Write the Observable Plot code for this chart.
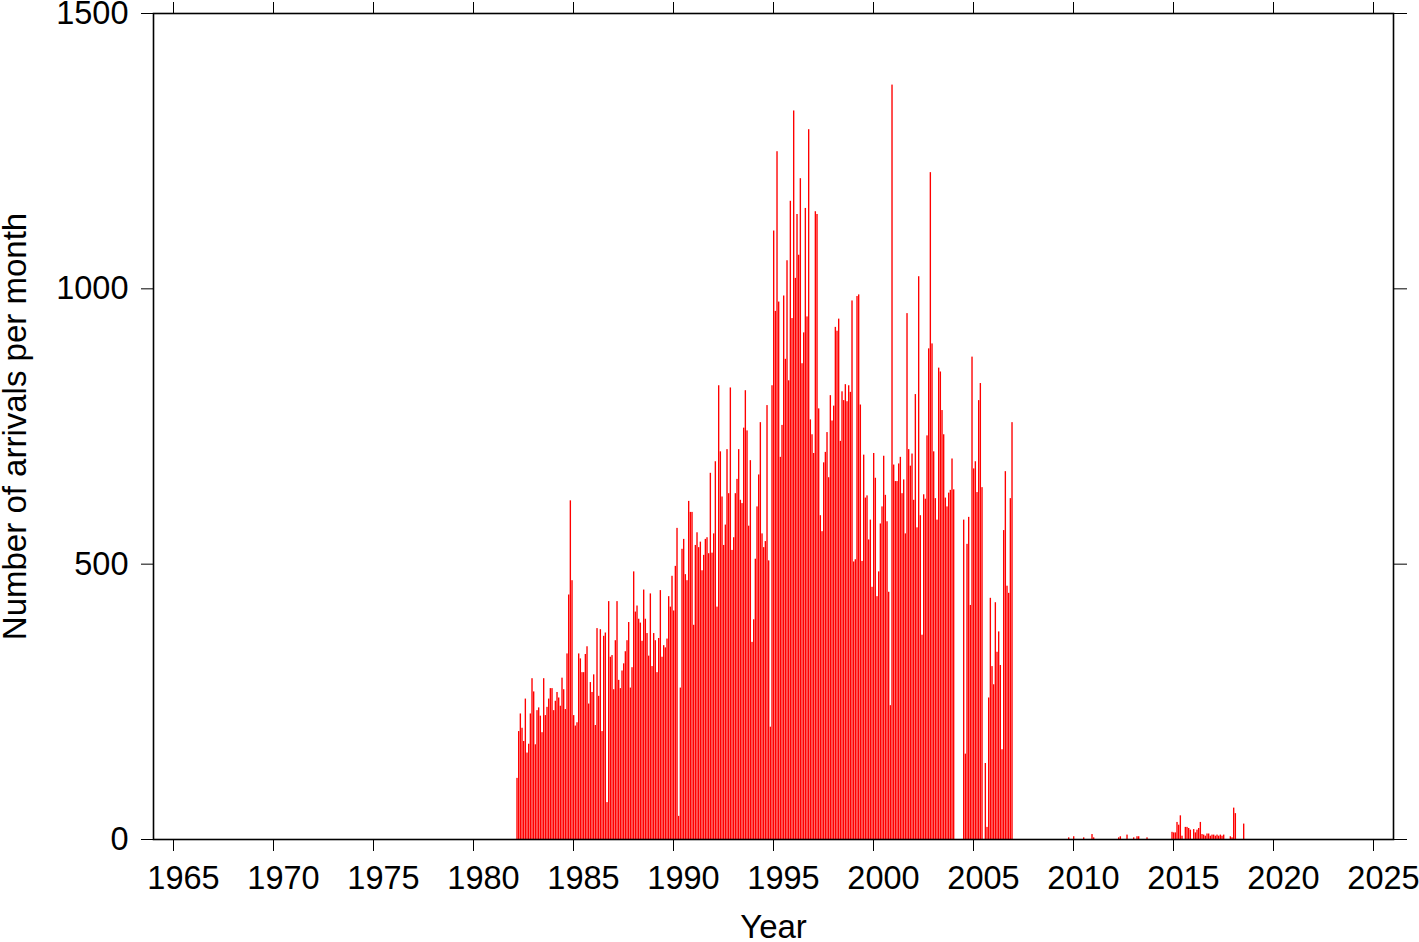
<!DOCTYPE html>
<html>
<head>
<meta charset="utf-8">
<script src="https://cdn.jsdelivr.net/npm/d3@7"></script>
<script src="https://cdn.jsdelivr.net/npm/@observablehq/plot@0.6"></script>
<style>
  html, body { margin: 0; padding: 0; background: #fff; }
  svg { display: block; }
</style>
</head>
<body>
<div id="chart"></div>
<script>
// Monthly arrivals, first value = March 1982, continuous monthly to December 2006
const firstYear = 1982;
const firstMonth = 3;
const arrivals1982to1989 = [
  111,196,228,202,178,255,157,173,228,292,
  268,172,234,239,224,194,292,225,240,255,274,274,
  234,251,267,257,242,293,272,236,337,444,615,470,
  225,206,212,337,328,303,303,336,350,246,285,267,
  299,207,383,260,381,196,369,375,67,432,331,334,
  272,361,432,289,274,306,319,341,361,394,275,312,
  486,413,424,400,393,360,453,400,374,333,446,314,
  374,361,303,365,452,331,352,348,364,441,422,478
];
const arrivals1990to1997 = [
  415,496,565,42,275,527,545,481,470,614,594,594,
  389,534,557,530,540,488,516,545,548,519,665,520,
  555,686,422,824,704,622,534,571,708,628,820,525,
  548,628,654,708,616,610,747,815,742,569,688,358,
  399,509,604,662,757,555,530,541,788,506,204,824,
  1105,959,1249,976,694,752,987,872,1051,833,1159,946,
  1323,1019,1135,1061,1200,864,920,1146,949,1289,762,735,
  701,1140,1135,782,588,559,684,703,739,657,806,760
];
const arrivals1998to2006 = [
  787,930,923,945,723,813,797,826,795,824,812,978,
  504,508,986,989,789,505,698,620,624,544,580,458,
  701,656,441,486,573,604,696,625,577,449,243,1370,
  680,650,650,682,694,628,653,555,955,708,678,700,
  616,808,566,1022,588,371,626,618,733,891,1211,900,
  704,619,580,856,849,779,735,620,604,629,634,691,
  635,0,0,0,0,0,580,155,536,585,425,876,
  673,686,630,797,828,639,0,138,22,257,438,314,
  281,430,340,377,316,163,561,668,460,447,619,757
];
// Sparse later months
const lateMonths = ["2009-10","2010-01","2010-07","2010-12","2011-01","2012-04","2012-05","2012-09",
  "2013-01","2013-03","2013-04","2013-09","2014-12","2015-01","2015-02","2015-03","2015-04","2015-05",
  "2015-06","2015-08","2015-09","2015-10","2015-11","2016-01","2016-02","2016-03","2016-04","2016-05",
  "2016-06","2016-07","2016-08","2016-09","2016-10","2016-11","2016-12","2017-01","2017-02","2017-03",
  "2017-04","2017-05","2017-06","2017-07","2017-11","2017-12","2018-01","2018-02","2018-07"];
const lateValues = [3,5,3,9,3,3,5,8,3,5,5,3,13,12,12,31,26,43,6,22,22,20,17,18,12,17,20,31,9,8,6,10,10,6,8,8,6,8,6,8,6,8,5,3,57,47,28];

const xTicks = [1965,1970,1975,1980,1985,1990,1995,2000,2005,2010,2015,2020,2025];
const yTicks = [0,500,1000,1500];
const xLabel = "Year";
const yLabel = "Number of arrivals per month";

// Build table
const rows = [];
const mainSeries = arrivals1982to1989.concat(arrivals1990to1997, arrivals1998to2006);
mainSeries.forEach((v, i) => {
  const t = firstYear + (firstMonth - 1 + i) / 12;
  rows.push({x1: t, x2: t + 1/12, v});
});
lateMonths.forEach((m, i) => {
  const [yy, mm] = m.split("-").map(Number);
  const t = yy + (mm - 1) / 12;
  rows.push({x1: t, x2: t + 1/12, v: lateValues[i]});
});

const font = "'Liberation Sans', Arial, Helvetica, sans-serif";

const chart = Plot.plot({
  width: 1419,
  height: 942,
  marginLeft: 153,
  marginRight: 26,
  marginTop: 13,
  marginBottom: 103,
  x: {domain: [1964, 2026]},
  y: {domain: [0, 1500]},
  style: {fontFamily: font, fontSize: "32px", color: "black", background: "white", overflow: "visible"},
  marks: [
    Plot.rectY(rows.filter(d => d.v > 0), {x1: "x1", x2: "x2", y: "v", fill: "#ff0000", insetRight: 0.3}),
    // bottom ticks
    Plot.axisX({anchor: "bottom", ticks: xTicks, tickSize: 12, fill: "none", label: null}),
    // bottom tick labels (slightly right of ticks, as in the reference)
    Plot.axisX({anchor: "bottom", ticks: xTicks, tickSize: 0, tickPadding: 26, tickFormat: d => String(d), label: null, fontSize: 32.5, dx: 10}),
    Plot.axisX({anchor: "top", ticks: xTicks, tickSize: 12, fill: "none", label: null}),
    Plot.axisY({anchor: "left", ticks: yTicks, tickSize: 12, tickPadding: 13, tickFormat: d => String(d), label: null, fontSize: 32.5}),
    Plot.axisY({anchor: "right", ticks: yTicks, tickSize: 13, fill: "none", label: null}),
    Plot.frame({stroke: "black", strokeWidth: 1.6}),
    Plot.text([xLabel], {text: d => d, frameAnchor: "bottom", dy: 98, lineAnchor: "bottom", textAnchor: "middle", fontSize: 33, fill: "black"}),
    Plot.text([yLabel], {text: d => d, frameAnchor: "left", dx: -138.5, rotate: -90, lineAnchor: "middle", textAnchor: "middle", fontSize: 33, fill: "black"})
  ]
});
document.getElementById("chart").appendChild(chart);
</script>
</body>
</html>
